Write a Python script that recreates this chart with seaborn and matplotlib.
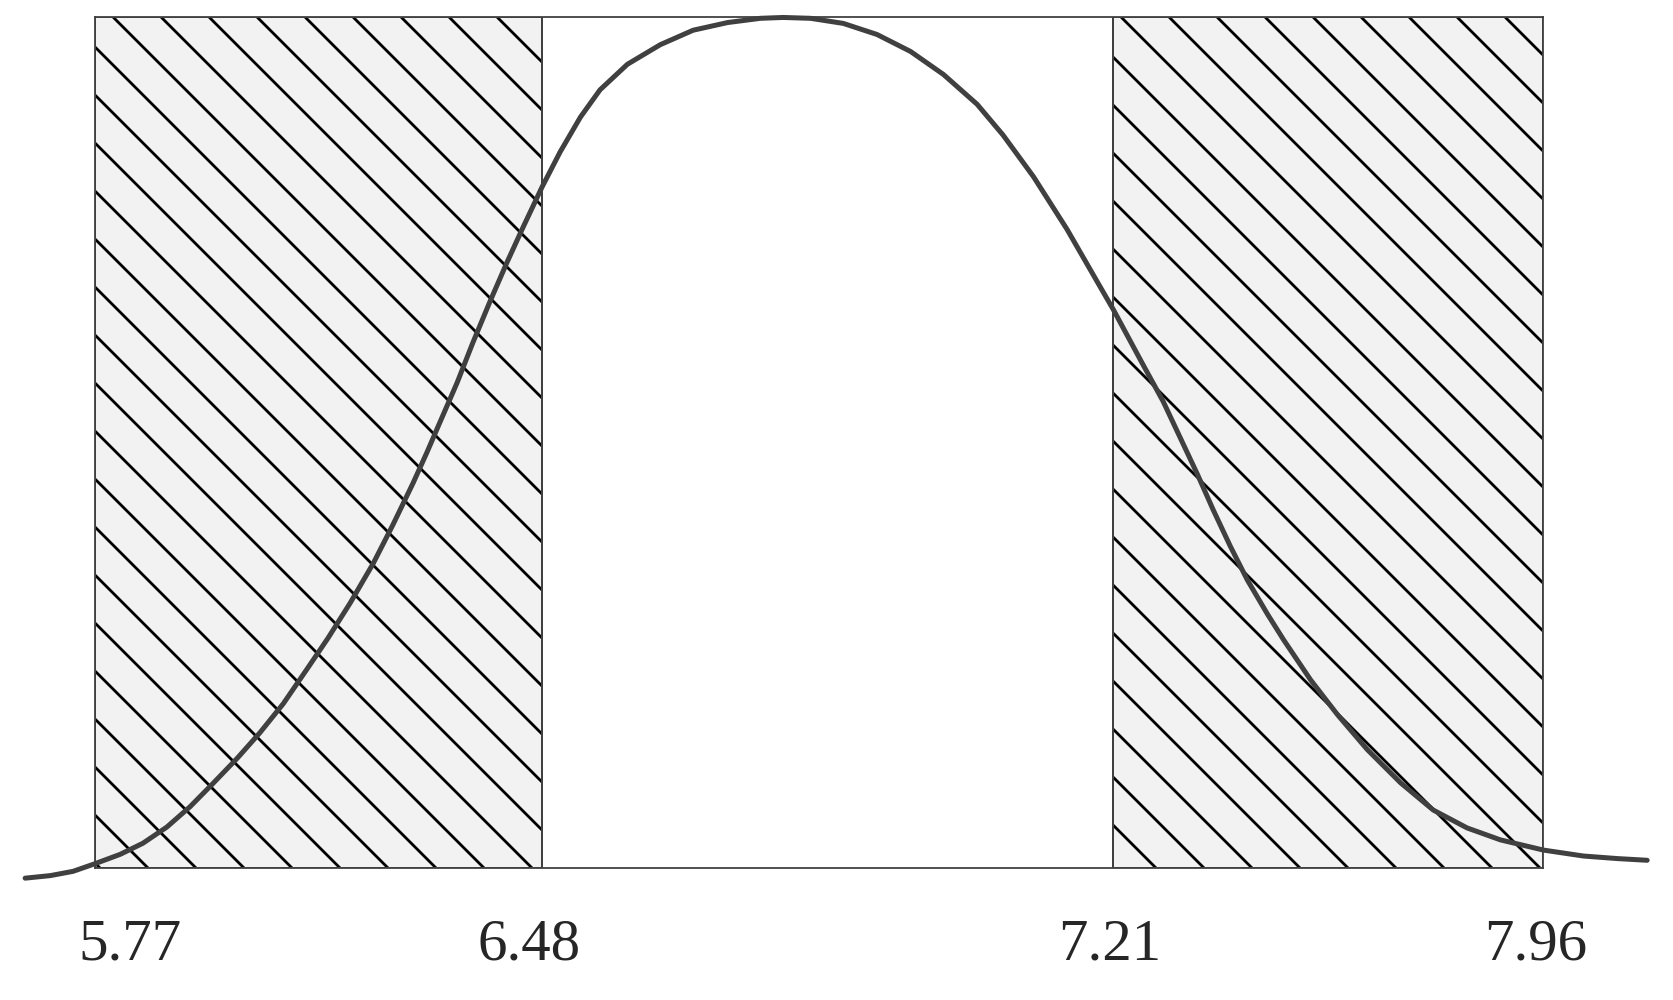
import numpy as np
import pandas as pd
import matplotlib
matplotlib.use("Agg")
import matplotlib.pyplot as plt
import matplotlib.transforms as mtransforms
import seaborn as sns

# band boundaries shown under the axis
tick_values = [5.77, 6.48, 7.21, 7.96]
tick_labels = ["5.77", "6.48", "7.21", "7.96"]

# hatched (outer) bands
low_band = (5.77, 6.48)
high_band = (7.21, 7.96)

# curve (x in axis values, y as share of peak height)
curve_x = [5.659, 5.699, 5.735, 5.770, 5.810, 5.846, 5.884, 5.921, 5.957, 5.996,
           6.032, 6.069, 6.107, 6.140, 6.175, 6.212, 6.243, 6.275, 6.297, 6.318,
           6.345, 6.370, 6.397, 6.424, 6.450, 6.480, 6.503, 6.529, 6.554, 6.589,
           6.631, 6.673, 6.717, 6.759, 6.788, 6.823, 6.865, 6.908, 6.951, 6.993,
           7.036, 7.069, 7.108, 7.151, 7.193, 7.210, 7.262, 7.297, 7.327, 7.357,
           7.384, 7.414, 7.444, 7.479, 7.507, 7.554, 7.601, 7.653, 7.711, 7.768,
           7.827, 7.885, 7.960, 8.030, 8.089, 8.141]
curve_y = [-0.012, -0.009, -0.004, 0.005, 0.016, 0.029, 0.048, 0.072, 0.099, 0.129,
           0.159, 0.193, 0.234, 0.270, 0.311, 0.358, 0.403, 0.452, 0.488, 0.524,
           0.570, 0.617, 0.665, 0.711, 0.753, 0.800, 0.841, 0.882, 0.914, 0.944,
           0.967, 0.984, 0.993, 0.998, 0.999, 0.998, 0.992, 0.979, 0.959, 0.932,
           0.897, 0.861, 0.812, 0.750, 0.683, 0.656, 0.591, 0.548, 0.505, 0.462,
           0.421, 0.378, 0.338, 0.298, 0.268, 0.221, 0.180, 0.139, 0.100, 0.068,
           0.047, 0.033, 0.021, 0.014, 0.011, 0.009]

# the drawing is not to scale: each band has its own width on the page
knot_pos = np.array([0.0, 447.0, 1018.0, 1448.0])
knot_val = np.array(tick_values)


def _piecewise(v, src, dst):
    v = np.asarray(v, dtype=float)
    out = np.interp(v, src, dst)
    s0 = (dst[1] - dst[0]) / (src[1] - src[0])
    s1 = (dst[-1] - dst[-2]) / (src[-1] - src[-2])
    out = np.where(v < src[0], dst[0] + (v - src[0]) * s0, out)
    out = np.where(v > src[-1], dst[-1] + (v - src[-1]) * s1, out)
    return out


def forward(v):
    return _piecewise(v, knot_val, knot_pos)


def inverse(p):
    return _piecewise(p, knot_pos, knot_val)


sns.set_style("white")
plt.rcParams["font.family"] = ["Liberation Serif", "DejaVu Serif"]
plt.rcParams["hatch.linewidth"] = 0.7

DPI = 288
fig = plt.figure(figsize=(1673.4 / DPI, 1000.4 / DPI), dpi=DPI)
ax = fig.add_axes([95 / 1673, 0.132, 1448 / 1673, 0.851])
ax.set_xscale("function", functions=(forward, inverse))

edge = "#404040"
for lo, hi in (low_band, high_band):
    ax.axvspan(lo, hi, facecolor="#f2f2f2", edgecolor="black", hatch="\\\\",
               linewidth=0, zorder=1)
    ax.axvspan(lo, hi, facecolor="none", edgecolor=edge, linewidth=0.5, zorder=2)

df = pd.DataFrame({"x": curve_x, "y": curve_y})
sns.lineplot(data=df, x="x", y="y", sort=False, color=edge, linewidth=1.25,
             clip_on=False, solid_capstyle="round", solid_joinstyle="round",
             zorder=3, ax=ax)

ax.set_xlim(tick_values[0], tick_values[-1])
ax.set_ylim(0, 1.0)
ax.set_yticks([])
ax.set_xticks(tick_values)
ax.set_xticklabels(tick_labels, fontsize=14.75)
ax.tick_params(axis="x", length=0, pad=12.5)
ax.set_xlabel("")
ax.set_ylabel("")

# nudge labels the way they sit in the original drawing (points)
offsets = [8.8, -3.2, -0.8, -2.0]
for lab, dx in zip(ax.get_xticklabels(), offsets):
    lab.set_transform(lab.get_transform() +
                      mtransforms.ScaledTranslation(dx / 72, 0, fig.dpi_scale_trans))

for s in ax.spines.values():
    s.set_color(edge)
    s.set_linewidth(0.45)

fig.savefig("out.png", dpi=DPI, facecolor="white")
